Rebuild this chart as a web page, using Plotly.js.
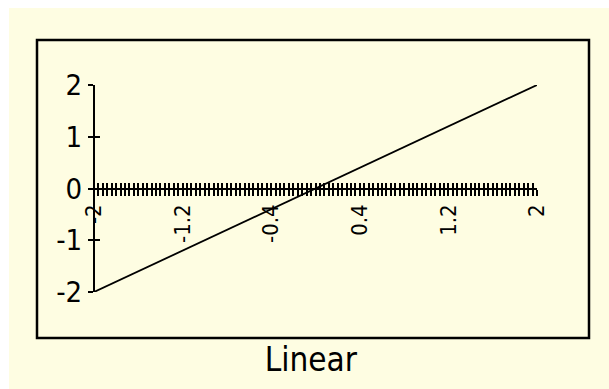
<!DOCTYPE html>
<html>
<head>
<meta charset="utf-8">
<script src="https://cdn.plot.ly/plotly-3.0.1.min.js"></script>
<style>
  html, body { margin: 0; padding: 0; background: #ffffff; width: 609px; height: 389px; overflow: hidden; }
  #chart { position: absolute; left: 9px; top: 8px; width: 600px; height: 381px; }
</style>
</head>
<body>
<div id="chart"></div>
<script>
// ---- data ----
const xValues = [-2, 2];
const yValues = [-2, 2];
const xTickVals = [-2, -1.2, -0.4, 0.4, 1.2, 2];
const xTickText = ["-2", "-1.2", "-0.4", "0.4", "1.2", "2"];
const yTickVals = [-2, -1, 0, 1, 2];
const yTickText = ["-2", "-1", "0", "1", "2"];
const chartTitle = "Linear";
const xRange = [-2, 2];
const yRange = [-2, 2];
const minorStep = 0.04;

const FONT = '"Liberation Sans Narrow", "Arial Narrow", "DejaVu Sans Condensed", Arial, sans-serif';
const CREAM = '#fefde2';

const W = 600, H = 381;
const margin = { l: 85, r: 72, t: 77, b: 97, pad: 0 };
const pw = W - margin.l - margin.r, ph = H - margin.t - margin.b;
function px2x(p) { return (p - margin.l) / pw; }
function px2y(p) { return (H - margin.b - p) / ph; }
const zeroPos = (0 - yRange[0]) / (yRange[1] - yRange[0]);

const traces = [
  { x: xValues, y: yValues, type: 'scatter', mode: 'lines',
    line: { color: '#000', width: 1.8 }, hoverinfo: 'skip', showlegend: false, cliponaxis: false },
  { x: xValues, y: yValues, type: 'scatter', mode: 'lines', xaxis: 'x2', yaxis: 'y2',
    line: { color: 'rgba(0,0,0,0)', width: 0 }, hoverinfo: 'skip', showlegend: false }
];

const common = { showgrid: false, zeroline: false, fixedrange: true };

const layout = {
  width: W, height: H,
  margin: margin,
  paper_bgcolor: CREAM,
  plot_bgcolor: CREAM,
  font: { family: FONT, color: '#000' },
  title: { text: chartTitle, font: { family: FONT, size: 33, color: '#000' },
           xref: 'container', yref: 'container', x: 0.503, xanchor: 'center', y: 0.078, yanchor: 'middle' },
  xaxis: Object.assign({}, common, {
    range: xRange, anchor: 'free', position: zeroPos,
    showline: true, linecolor: '#000', linewidth: 2,
    tickmode: 'array', tickvals: xTickVals, ticktext: xTickText,
    ticks: 'outside', ticklen: 6, tickwidth: 2, tickcolor: '#000',
    tickangle: -90, tickfont: { family: FONT, size: 22, color: '#000' },
    minor: { tickmode: 'linear', tick0: xRange[0], dtick: minorStep, ticks: 'outside', ticklen: 6, tickwidth: 2, tickcolor: '#000' }
  }),
  xaxis2: Object.assign({}, common, {
    range: xRange, overlaying: 'x', anchor: 'free', position: zeroPos,
    showline: false, showticklabels: false,
    tickmode: 'array', tickvals: xTickVals,
    ticks: 'inside', ticklen: 6, tickwidth: 2, tickcolor: '#000',
    minor: { tickmode: 'linear', tick0: xRange[0], dtick: minorStep, ticks: 'inside', ticklen: 6, tickwidth: 2, tickcolor: '#000' }
  }),
  yaxis: Object.assign({}, common, {
    range: yRange, anchor: 'free', position: 0,
    showline: true, linecolor: '#000', linewidth: 2,
    tickmode: 'array', tickvals: yTickVals, ticktext: yTickText,
    ticks: 'outside', ticklen: 5, tickwidth: 2, tickcolor: '#000',
    tickfont: { family: FONT, size: 29, color: '#000' }
  }),
  yaxis2: Object.assign({}, common, {
    range: yRange, overlaying: 'y', anchor: 'free', position: 0,
    showline: false, showticklabels: false,
    tickmode: 'array', tickvals: yTickVals,
    ticks: 'inside', ticklen: 5, tickwidth: 2, tickcolor: '#000'
  }),
  shapes: [
    { type: 'rect', xref: 'paper', yref: 'paper',
      x0: px2x(28), x1: px2x(580), y0: px2y(330), y1: px2y(32),
      line: { color: '#000', width: 2.5 }, fillcolor: 'rgba(0,0,0,0)', layer: 'below' }
  ],
  showlegend: false
};

Plotly.newPlot('chart', traces, layout, { displayModeBar: false, staticPlot: true });
</script>
</body>
</html>
